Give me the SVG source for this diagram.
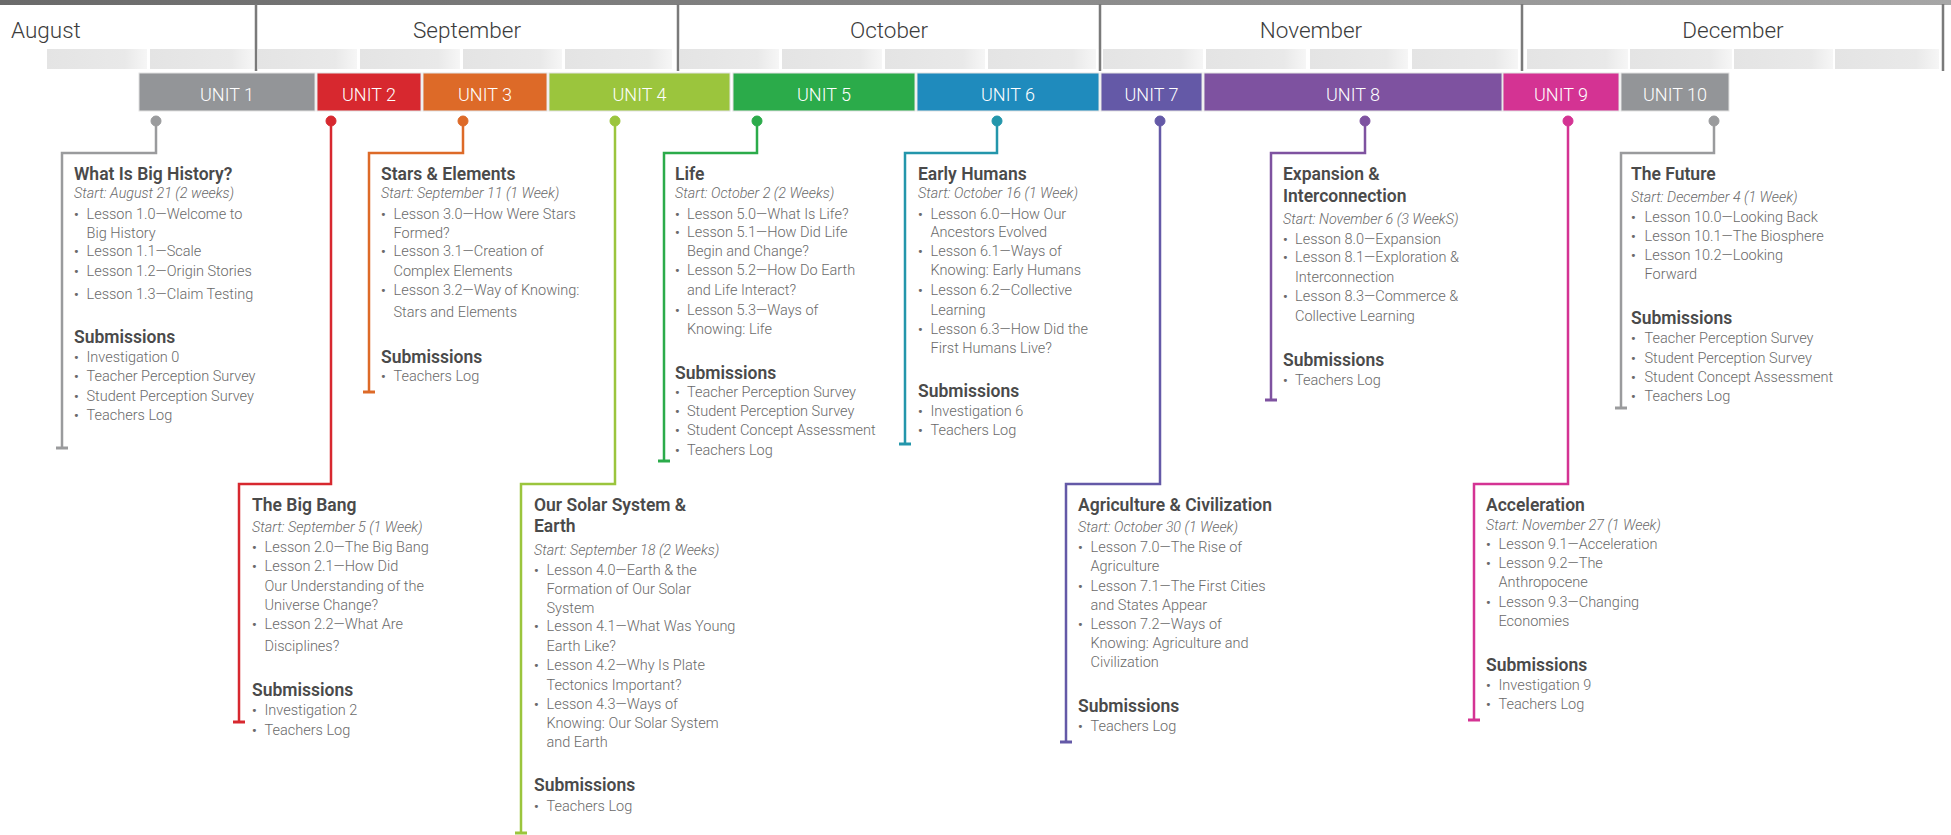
<svg xmlns="http://www.w3.org/2000/svg" width="1951" height="835" viewBox="0 0 1951 835">
<defs>
<linearGradient id="band" x1="0" y1="0" x2="1" y2="0"><stop offset="0" stop-color="#6a6a6a"/><stop offset="1" stop-color="#a6a6a6"/></linearGradient>
<linearGradient id="wk" x1="0" y1="0" x2="1" y2="0"><stop offset="0" stop-color="#e4e4e4"/><stop offset="0.78" stop-color="#e9e9e9"/><stop offset="1" stop-color="#f6f6f6"/></linearGradient>
<style>
text{font-family:Roboto,"Liberation Sans",sans-serif}
.mon{font-weight:300;font-size:22.5px;fill:#3c3c3c}
.ml{stroke:#7a7a7a;stroke-width:2.5;fill:none}
.wk{fill:url(#wk)}
.ub{stroke:#e2e2e2;stroke-width:1}
.ut{font-weight:300;font-size:18px;fill:#fff;text-anchor:middle}
.t{font-weight:600;font-size:17.5px;fill:#4a4a4a}
.d{font-weight:300;font-style:italic;font-size:14.3px;fill:#6a6a6a}
.l{font-weight:300;font-size:14.5px;fill:#6a6a6a}
.b{font-weight:700;font-size:13px;fill:#6a6a6a}
.c{fill:none;stroke-width:2.5}
.k{fill:none;stroke-width:3}
</style>
</defs>
<g id="timeline">
<rect x="0" y="0" width="1951" height="5" fill="url(#band)"/>
<g id="weeks">
<rect class="wk" x="47" y="49" width="100" height="20"/>
<rect class="wk" x="150" y="49" width="104" height="20"/>
<rect class="wk" x="258" y="49" width="99" height="20"/>
<rect class="wk" x="360" y="49" width="100" height="20"/>
<rect class="wk" x="463" y="49" width="99" height="20"/>
<rect class="wk" x="565" y="49" width="107" height="20"/>
<rect class="wk" x="680" y="49" width="99" height="20"/>
<rect class="wk" x="782" y="49" width="100" height="20"/>
<rect class="wk" x="885" y="49" width="100" height="20"/>
<rect class="wk" x="988" y="49" width="108" height="20"/>
<rect class="wk" x="1103" y="49" width="100" height="20"/>
<rect class="wk" x="1206" y="49" width="100" height="20"/>
<rect class="wk" x="1310" y="49" width="98" height="20"/>
<rect class="wk" x="1412" y="49" width="106" height="20"/>
<rect class="wk" x="1527" y="49" width="101" height="20"/>
<rect class="wk" x="1630" y="49" width="102" height="20"/>
<rect class="wk" x="1734" y="49" width="99" height="20"/>
<rect class="wk" x="1835" y="49" width="104" height="20"/>
</g>
<path class="ml" d="M256,4V71M678,4V71M1100,4V71M1522,4V71M1943,4V71"/>
<text class="mon" x="11" y="38">August</text>
<text class="mon" x="467" y="38" text-anchor="middle">September</text>
<text class="mon" x="889" y="38" text-anchor="middle">October</text>
<text class="mon" x="1311" y="38" text-anchor="middle">November</text>
<text class="mon" x="1733" y="38" text-anchor="middle">December</text>
</g>
<g id="units">
<g id="unit-1"><rect class="ub" x="139" y="73" width="176" height="38" fill="#939598"/><text class="ut" x="227" y="101">UNIT 1</text></g>
<g id="unit-2"><rect class="ub" x="317" y="73" width="104" height="38" fill="#d7282f"/><text class="ut" x="369" y="101">UNIT 2</text></g>
<g id="unit-3"><rect class="ub" x="423" y="73" width="124" height="38" fill="#dd6a28"/><text class="ut" x="485" y="101">UNIT 3</text></g>
<g id="unit-4"><rect class="ub" x="549" y="73" width="181" height="38" fill="#9bc53d"/><text class="ut" x="639.5" y="101">UNIT 4</text></g>
<g id="unit-5"><rect class="ub" x="733" y="73" width="182" height="38" fill="#2bab4a"/><text class="ut" x="824" y="101">UNIT 5</text></g>
<g id="unit-6"><rect class="ub" x="917" y="73" width="182" height="38" fill="#1f8bbd"/><text class="ut" x="1008" y="101">UNIT 6</text></g>
<g id="unit-7"><rect class="ub" x="1101" y="73" width="101" height="38" fill="#6459a7"/><text class="ut" x="1151.5" y="101">UNIT 7</text></g>
<g id="unit-8"><rect class="ub" x="1204" y="73" width="298" height="38" fill="#7e52a0"/><text class="ut" x="1353" y="101">UNIT 8</text></g>
<g id="unit-9"><rect class="ub" x="1503" y="73" width="116" height="38" fill="#d43393"/><text class="ut" x="1561" y="101">UNIT 9</text></g>
<g id="unit-10"><rect class="ub" x="1621" y="73" width="108" height="38" fill="#939598"/><text class="ut" x="1675" y="101">UNIT 10</text></g>
</g>
<g id="connectors">
<g stroke="#9a9b9d" fill="#9a9b9d"><circle cx="156" cy="121" r="5"/><path class="c" d="M156,121V153H62V448"/><path class="k" d="M56,448H68"/></g>
<g stroke="#d7282f" fill="#d7282f"><circle cx="331" cy="121" r="5"/><path class="c" d="M331,121V484H239V722"/><path class="k" d="M233,722H245"/></g>
<g stroke="#dd6a28" fill="#dd6a28"><circle cx="463" cy="121" r="5"/><path class="c" d="M463,121V153H369V392"/><path class="k" d="M363,392H375"/></g>
<g stroke="#9bc53d" fill="#9bc53d"><circle cx="615" cy="121" r="5"/><path class="c" d="M615,121V484H521V833"/><path class="k" d="M515,833H527"/></g>
<g stroke="#2bab4a" fill="#2bab4a"><circle cx="757" cy="121" r="5"/><path class="c" d="M757,121V153H664V461"/><path class="k" d="M658,461H670"/></g>
<g stroke="#2396ab" fill="#2396ab"><circle cx="997" cy="121" r="5"/><path class="c" d="M997,121V153H905V444"/><path class="k" d="M899,444H911"/></g>
<g stroke="#6459a7" fill="#6459a7"><circle cx="1160" cy="121" r="5"/><path class="c" d="M1160,121V484H1066V742"/><path class="k" d="M1060,742H1072"/></g>
<g stroke="#7e52a0" fill="#7e52a0"><circle cx="1365" cy="121" r="5"/><path class="c" d="M1365,121V153H1271V400"/><path class="k" d="M1265,400H1277"/></g>
<g stroke="#d43393" fill="#d43393"><circle cx="1568" cy="121" r="5"/><path class="c" d="M1568,121V484H1474V720"/><path class="k" d="M1468,720H1480"/></g>
<g stroke="#9a9b9d" fill="#9a9b9d"><circle cx="1714" cy="121" r="5"/><path class="c" d="M1714,121V153H1621V408"/><path class="k" d="M1615,408H1627"/></g>
</g>
<g id="block-1">
<text class="t" x="74" y="180">What Is Big History?</text>
<text class="d" x="74" y="198">Start: August 21 (2 weeks)</text>
<text class="b" x="74" y="219">•</text><text class="l" x="86.5" y="219">Lesson 1.0—Welcome to</text>
<text class="l" x="86.5" y="238">Big History</text>
<text class="b" x="74" y="256">•</text><text class="l" x="86.5" y="256">Lesson 1.1—Scale</text>
<text class="b" x="74" y="276">•</text><text class="l" x="86.5" y="276">Lesson 1.2—Origin Stories</text>
<text class="b" x="74" y="299">•</text><text class="l" x="86.5" y="299">Lesson 1.3—Claim Testing</text>
<text class="t" x="74" y="343">Submissions</text>
<text class="b" x="74" y="362">•</text><text class="l" x="86.5" y="362">Investigation 0</text>
<text class="b" x="74" y="381">•</text><text class="l" x="86.5" y="381">Teacher Perception Survey</text>
<text class="b" x="74" y="401">•</text><text class="l" x="86.5" y="401">Student Perception Survey</text>
<text class="b" x="74" y="420">•</text><text class="l" x="86.5" y="420">Teachers Log</text>
</g>
<g id="block-2">
<text class="t" x="252" y="511">The Big Bang</text>
<text class="d" x="252" y="532">Start: September 5 (1 Week)</text>
<text class="b" x="252" y="552">•</text><text class="l" x="264.5" y="552">Lesson 2.0—The Big Bang</text>
<text class="b" x="252" y="571">•</text><text class="l" x="264.5" y="571">Lesson 2.1—How Did</text>
<text class="l" x="264.5" y="591">Our Understanding of the</text>
<text class="l" x="264.5" y="610">Universe Change?</text>
<text class="b" x="252" y="629">•</text><text class="l" x="264.5" y="629">Lesson 2.2—What Are</text>
<text class="l" x="264.5" y="651">Disciplines?</text>
<text class="t" x="252" y="696">Submissions</text>
<text class="b" x="252" y="715">•</text><text class="l" x="264.5" y="715">Investigation 2</text>
<text class="b" x="252" y="735">•</text><text class="l" x="264.5" y="735">Teachers Log</text>
</g>
<g id="block-3">
<text class="t" x="381" y="180">Stars &amp; Elements</text>
<text class="d" x="381" y="198">Start: September 11 (1 Week)</text>
<text class="b" x="381" y="219">•</text><text class="l" x="393.5" y="219">Lesson 3.0—How Were Stars</text>
<text class="l" x="393.5" y="238">Formed?</text>
<text class="b" x="381" y="256">•</text><text class="l" x="393.5" y="256">Lesson 3.1—Creation of</text>
<text class="l" x="393.5" y="276">Complex Elements</text>
<text class="b" x="381" y="295">•</text><text class="l" x="393.5" y="295">Lesson 3.2—Way of Knowing:</text>
<text class="l" x="393.5" y="317">Stars and Elements</text>
<text class="t" x="381" y="363">Submissions</text>
<text class="b" x="381" y="381">•</text><text class="l" x="393.5" y="381">Teachers Log</text>
</g>
<g id="block-4">
<text class="t" x="534" y="511">Our Solar System &amp;</text>
<text class="t" x="534" y="532">Earth</text>
<text class="d" x="534" y="555">Start: September 18 (2 Weeks)</text>
<text class="b" x="534" y="575">•</text><text class="l" x="546.5" y="575">Lesson 4.0—Earth &amp; the</text>
<text class="l" x="546.5" y="594">Formation of Our Solar</text>
<text class="l" x="546.5" y="613">System</text>
<text class="b" x="534" y="631">•</text><text class="l" x="546.5" y="631">Lesson 4.1—What Was Young</text>
<text class="l" x="546.5" y="651">Earth Like?</text>
<text class="b" x="534" y="670">•</text><text class="l" x="546.5" y="670">Lesson 4.2—Why Is Plate</text>
<text class="l" x="546.5" y="690">Tectonics Important?</text>
<text class="b" x="534" y="709">•</text><text class="l" x="546.5" y="709">Lesson 4.3—Ways of</text>
<text class="l" x="546.5" y="728">Knowing: Our Solar System</text>
<text class="l" x="546.5" y="747">and Earth</text>
<text class="t" x="534" y="791">Submissions</text>
<text class="b" x="534" y="811">•</text><text class="l" x="546.5" y="811">Teachers Log</text>
</g>
<g id="block-5">
<text class="t" x="675" y="180">Life</text>
<text class="d" x="675" y="198">Start: October 2 (2 Weeks)</text>
<text class="b" x="675" y="219">•</text><text class="l" x="687" y="219">Lesson 5.0—What Is Life?</text>
<text class="b" x="675" y="237">•</text><text class="l" x="687" y="237">Lesson 5.1—How Did Life</text>
<text class="l" x="687" y="256">Begin and Change?</text>
<text class="b" x="675" y="275">•</text><text class="l" x="687" y="275">Lesson 5.2—How Do Earth</text>
<text class="l" x="687" y="295">and Life Interact?</text>
<text class="b" x="675" y="315">•</text><text class="l" x="687" y="315">Lesson 5.3—Ways of</text>
<text class="l" x="687" y="334">Knowing: Life</text>
<text class="t" x="675" y="379">Submissions</text>
<text class="b" x="675" y="397">•</text><text class="l" x="687" y="397">Teacher Perception Survey</text>
<text class="b" x="675" y="416">•</text><text class="l" x="687" y="416">Student Perception Survey</text>
<text class="b" x="675" y="435">•</text><text class="l" x="687" y="435">Student Concept Assessment</text>
<text class="b" x="675" y="455">•</text><text class="l" x="687" y="455">Teachers Log</text>
</g>
<g id="block-6">
<text class="t" x="918" y="180">Early Humans</text>
<text class="d" x="918" y="198">Start: October 16 (1 Week)</text>
<text class="b" x="918" y="219">•</text><text class="l" x="930.5" y="219">Lesson 6.0—How Our</text>
<text class="l" x="930.5" y="237">Ancestors Evolved</text>
<text class="b" x="918" y="256">•</text><text class="l" x="930.5" y="256">Lesson 6.1—Ways of</text>
<text class="l" x="930.5" y="275">Knowing: Early Humans</text>
<text class="b" x="918" y="295">•</text><text class="l" x="930.5" y="295">Lesson 6.2—Collective</text>
<text class="l" x="930.5" y="315">Learning</text>
<text class="b" x="918" y="334">•</text><text class="l" x="930.5" y="334">Lesson 6.3—How Did the</text>
<text class="l" x="930.5" y="353">First Humans Live?</text>
<text class="t" x="918" y="397">Submissions</text>
<text class="b" x="918" y="416">•</text><text class="l" x="930.5" y="416">Investigation 6</text>
<text class="b" x="918" y="435">•</text><text class="l" x="930.5" y="435">Teachers Log</text>
</g>
<g id="block-7">
<text class="t" x="1078" y="511">Agriculture &amp; Civilization</text>
<text class="d" x="1078" y="532">Start: October 30  (1 Week)</text>
<text class="b" x="1078" y="552">•</text><text class="l" x="1090.5" y="552">Lesson 7.0—The Rise of</text>
<text class="l" x="1090.5" y="571">Agriculture</text>
<text class="b" x="1078" y="591">•</text><text class="l" x="1090.5" y="591">Lesson 7.1—The First Cities</text>
<text class="l" x="1090.5" y="610">and States Appear</text>
<text class="b" x="1078" y="629">•</text><text class="l" x="1090.5" y="629">Lesson 7.2—Ways of</text>
<text class="l" x="1090.5" y="648">Knowing: Agriculture and</text>
<text class="l" x="1090.5" y="667">Civilization</text>
<text class="t" x="1078" y="712">Submissions</text>
<text class="b" x="1078" y="731">•</text><text class="l" x="1090.5" y="731">Teachers Log</text>
</g>
<g id="block-8">
<text class="t" x="1283" y="180">Expansion &amp;</text>
<text class="t" x="1283" y="202">Interconnection</text>
<text class="d" x="1283" y="224">Start: November 6 (3 WeekS)</text>
<text class="b" x="1283" y="244">•</text><text class="l" x="1295" y="244">Lesson 8.0—Expansion</text>
<text class="b" x="1283" y="262">•</text><text class="l" x="1295" y="262">Lesson 8.1—Exploration &amp;</text>
<text class="l" x="1295" y="282">Interconnection</text>
<text class="b" x="1283" y="301">•</text><text class="l" x="1295" y="301">Lesson 8.3—Commerce &amp;</text>
<text class="l" x="1295" y="321">Collective Learning</text>
<text class="t" x="1283" y="366">Submissions</text>
<text class="b" x="1283" y="385">•</text><text class="l" x="1295" y="385">Teachers Log</text>
</g>
<g id="block-9">
<text class="t" x="1486" y="511">Acceleration</text>
<text class="d" x="1486" y="530">Start: November 27 (1 Week)</text>
<text class="b" x="1486" y="549">•</text><text class="l" x="1498.5" y="549">Lesson 9.1—Acceleration</text>
<text class="b" x="1486" y="568">•</text><text class="l" x="1498.5" y="568">Lesson 9.2—The</text>
<text class="l" x="1498.5" y="587">Anthropocene</text>
<text class="b" x="1486" y="607">•</text><text class="l" x="1498.5" y="607">Lesson 9.3—Changing</text>
<text class="l" x="1498.5" y="626">Economies</text>
<text class="t" x="1486" y="671">Submissions</text>
<text class="b" x="1486" y="690">•</text><text class="l" x="1498.5" y="690">Investigation 9</text>
<text class="b" x="1486" y="709">•</text><text class="l" x="1498.5" y="709">Teachers Log</text>
</g>
<g id="block-10">
<text class="t" x="1631" y="180">The Future</text>
<text class="d" x="1631" y="202">Start: December 4 (1 Week)</text>
<text class="b" x="1631" y="222">•</text><text class="l" x="1644.5" y="222">Lesson 10.0—Looking Back</text>
<text class="b" x="1631" y="241">•</text><text class="l" x="1644.5" y="241">Lesson 10.1—The Biosphere</text>
<text class="b" x="1631" y="260">•</text><text class="l" x="1644.5" y="260">Lesson 10.2—Looking</text>
<text class="l" x="1644.5" y="279">Forward</text>
<text class="t" x="1631" y="324">Submissions</text>
<text class="b" x="1631" y="343">•</text><text class="l" x="1644.5" y="343">Teacher Perception Survey</text>
<text class="b" x="1631" y="363">•</text><text class="l" x="1644.5" y="363">Student Perception Survey</text>
<text class="b" x="1631" y="382">•</text><text class="l" x="1644.5" y="382">Student Concept Assessment</text>
<text class="b" x="1631" y="401">•</text><text class="l" x="1644.5" y="401">Teachers Log</text>
</g>
</svg>
